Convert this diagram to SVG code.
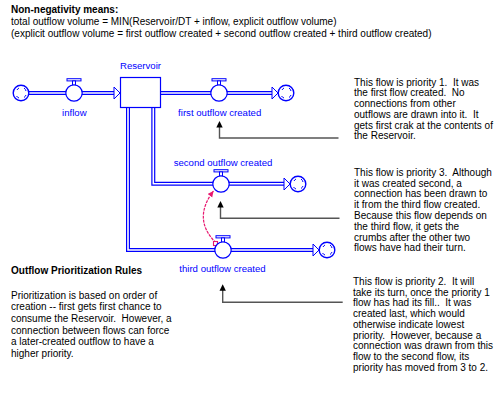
<svg xmlns="http://www.w3.org/2000/svg" width="500" height="400" viewBox="0 0 500 400">
<style>
.t{font-family:"Liberation Sans",Arial,sans-serif;font-size:10px;fill:#000;white-space:pre}
.b{font-weight:bold}
.lbl{font-family:"Liberation Sans",Arial,sans-serif;font-size:9.6px;fill:#0000ff;text-anchor:middle}
.po{fill:none;stroke:#0000ff;stroke-width:4}
.pi{fill:none;stroke:#fff;stroke-width:1.6}
.vc{fill:#fff;stroke:#0000ff;stroke-width:1.2}
.vb{fill:#fff;stroke:#0000ff;stroke-width:1}
.ah{fill:#fff;stroke:#0000ff;stroke-width:1}
.cl{fill:#fff;stroke:#0000ff;stroke-width:1.4}
.cm{fill:none;stroke:#0000ff;stroke-width:1}
.gl{fill:none;stroke:#555;stroke-width:1.4}
.ba{fill:#000}
</style>
<defs>
<g id="cloud">
<circle r="7.8" class="cl"/>
<path class="cm" d="M-4,-3 A5,5 0 0 1 -2,-5 M3,-5 A5,5 0 0 1 5,-2 M5,2 A5,5 0 0 1 3,4.5 M-2,5 A5,5 0 0 1 -4.5,3"/>
</g>
<g id="valve">
<rect x="-7" y="-14.3" width="14" height="2.2" class="vb"/>
<rect x="-1.5" y="-12.1" width="3" height="4.4" class="vb"/>
<circle r="8.2" class="vc"/>
</g>
<marker id="pk" markerWidth="8" markerHeight="8" refX="6" refY="3" orient="auto" markerUnits="userSpaceOnUse">
<path d="M0,0 L6,3 L0,6 z" fill="#e8176f"/>
</marker>
</defs>

<g id="text-top">
<text class="t b" x="11" y="13">Non-negativity means:</text>
<text class="t" x="11" y="25">total outflow volume = MIN(Reservoir/DT + inflow, explicit outflow volume)</text>
<text class="t" x="11" y="37">(explicit outflow volume = first outflow created + second outflow created + third outflow created)</text>
</g>

<g id="connectors">
<path class="po" d="M29,93 H115"/>
<path class="pi" d="M29,93 H115"/>
<path class="po" d="M161,93 H273"/>
<path class="pi" d="M161,93 H273"/>
<path class="po" d="M153.3,107 V183.7 H285"/>
<path class="pi" d="M153.3,107 V183.7 H285"/>
<path class="po" d="M128,107 V250 H314"/>
<path class="pi" d="M128,107 V250 H314"/>
<path class="ah" d="M114,87 L120,93 L114,99 z"/>
<path class="ah" d="M272,87 L278,93 L272,99 z"/>
<path class="ah" d="M284,178 L290,184 L284,190 z"/>
<path class="ah" d="M313,244 L319,250 L313,256 z"/>
<path d="M216,243 Q192,219 213.5,191" fill="none" stroke="#e8176f" stroke-width="1.2" stroke-dasharray="3,1" marker-end="url(#pk)"/>
<rect x="213.5" y="241.5" width="4" height="4" fill="#fff" stroke="#e8176f" stroke-width="1.1"/>
<path class="gl" d="M219.5,127 V138 H338.5"/>
<path class="ba" d="M219.5,121 L216.3,127.5 L222.7,127.5 z"/>
<path class="gl" d="M220.5,207 V218.3 H339.5"/>
<path class="ba" d="M220.5,201 L217.3,207.5 L223.7,207.5 z"/>
<path class="gl" d="M222.7,290 V302.3 H342.7"/>
<path class="ba" d="M222.7,284.3 L219.5,290.8 L225.9,290.8 z"/>
</g>

<g id="cloud-in"><use href="#cloud" x="21" y="93"/></g>
<g id="inflow"><use href="#valve" x="74" y="93"/><text class="lbl" x="74.3" y="115.5">inflow</text></g>
<g id="reservoir"><rect x="120.5" y="77.5" width="40" height="30" fill="#fff" stroke="#0000ff" stroke-width="1.2"/><text class="lbl" x="140.5" y="69.3">Reservoir</text></g>
<g id="first-outflow"><use href="#valve" x="219" y="93"/><text class="lbl" x="219.7" y="115.5">first outflow created</text></g>
<g id="cloud-1"><use href="#cloud" x="286" y="93"/></g>
<g id="second-outflow"><use href="#valve" x="221" y="184"/><text class="lbl" x="223" y="166">second outflow created</text></g>
<g id="cloud-2"><use href="#cloud" x="298" y="184"/></g>
<g id="third-outflow"><use href="#valve" x="223" y="250"/><text class="lbl" x="222.5" y="272">third outflow created</text></g>
<g id="cloud-3"><use href="#cloud" x="327" y="250"/></g>

<g id="note-1">
<text class="t" x="354" y="85.7">This flow is priority 1.  It was</text>
<text class="t" x="354" y="96.4">the first flow created.  No</text>
<text class="t" x="354" y="107.1">connections from other</text>
<text class="t" x="354" y="117.8">outflows are drawn into it.  It</text>
<text class="t" x="354" y="128.5">gets first crak at the contents of</text>
<text class="t" x="354" y="139.2">the Reservoir.</text>
</g>
<g id="note-2">
<text class="t" x="354" y="175.7">This flow is priority 3.  Although</text>
<text class="t" x="354" y="186.5">it was created second, a</text>
<text class="t" x="354" y="197.3">connection has been drawn to</text>
<text class="t" x="354" y="208.1">it from the third flow created.</text>
<text class="t" x="354" y="218.9">Because this flow depends on</text>
<text class="t" x="354" y="229.7">the third flow, it gets the</text>
<text class="t" x="354" y="240.5">crumbs after the other two</text>
<text class="t" x="354" y="251.3">flows have had their turn.</text>
</g>
<g id="note-3">
<text class="t" x="353" y="285">This flow is priority 2.  It will</text>
<text class="t" x="353" y="295.7">take its turn, once the priority 1</text>
<text class="t" x="353" y="306.4">flow has had its fill..  It was</text>
<text class="t" x="353" y="317.1">created last, which would</text>
<text class="t" x="353" y="327.8">otherwise indicate lowest</text>
<text class="t" x="353" y="338.5">priority.  However, because a</text>
<text class="t" x="353" y="349.2">connection was drawn from this</text>
<text class="t" x="353" y="359.9">flow to the second flow, its</text>
<text class="t" x="353" y="370.6">priority has moved from 3 to 2.</text>
</g>
<g id="rules">
<text class="t b" x="11" y="273.5">Outflow Prioritization Rules</text>
<text class="t" x="11" y="298.5">Prioritization is based on order of</text>
<text class="t" x="11" y="310.2">creation -- first gets first chance to</text>
<text class="t" x="11" y="321.9">consume the Reservoir.  However, a</text>
<text class="t" x="11" y="333.6">connection between flows can force</text>
<text class="t" x="11" y="345.3">a later-created outflow to have a</text>
<text class="t" x="11" y="357">higher priority.</text>
</g>
</svg>
